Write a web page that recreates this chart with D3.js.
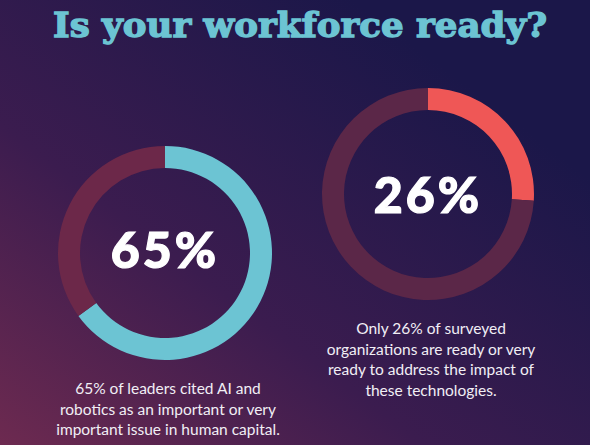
<!DOCTYPE html>
<html>
<head>
<meta charset="utf-8">
<script src="https://cdn.jsdelivr.net/npm/d3@7"></script>
<style>
  html, body { margin: 0; padding: 0; background: #1c1748; }
  svg { display: block; }
</style>
</head>
<body>
<svg width="590" height="445"></svg>
<script>
var svg = d3.select('svg');

// data
var title = 'Is your workforce ready?';
var values = [65, 26];
var labels = ['65%', '26%'];
var captions = [
    ['65% of leaders cited AI and', 'robotics as an important or very', 'important issue in human capital.'],
    ['Only 26% of surveyed', 'organizations are ready or very', 'ready to address the impact of', 'these technologies.']
];
var fills = ['#6cc4d3', '#ef5756'];
var tracks = ['#6c2849', '#5b2748'];

// layout
var donuts = [
    {cx: 165, cy: 253, r: 107, textY: 268, capY: 394},
    {cx: 428, cy: 194, r: 106, textY: 213, capY: 334}
];

var defs = svg.append('defs');
var grad = defs.append('linearGradient')
    .attr('id', 'bg')
    .attr('x1', '0%').attr('y1', '100%')
    .attr('x2', '80%').attr('y2', '20%');
grad.append('stop').attr('offset', '0%').attr('stop-color', '#6d2a50');
grad.append('stop').attr('offset', '45%').attr('stop-color', '#3b1c4f');
grad.append('stop').attr('offset', '100%').attr('stop-color', '#1b1749');

svg.append('rect')
    .attr('width', 590).attr('height', 445)
    .attr('fill', 'url(#bg)');

svg.append('text')
    .attr('x', 300).attr('y', 37)
    .attr('text-anchor', 'middle')
    .attr('font-family', 'DejaVu Serif')
    .attr('font-weight', 'bold')
    .attr('font-size', 33)
    .attr('textLength', 494)
    .attr('lengthAdjust', 'spacingAndGlyphs')
    .attr('fill', '#6cc4d3')
    .attr('stroke', '#6cc4d3')
    .attr('stroke-width', 1.3)
    .text(title);

var pie = d3.pie().sort(null);

values.forEach(function(v, i){
    var d = donuts[i];
    var arc = d3.arc().innerRadius(d.r - 22).outerRadius(d.r);
    var g = svg.append('g').attr('transform', 'translate(' + d.cx + ',' + d.cy + ')');

    g.selectAll('path')
        .data(pie([v, 100 - v])).enter()
        .append('path')
        .attr('d', arc)
        .attr('fill', function(p, j){
            return j == 0 ? fills[i] : tracks[i]
        });

    svg.append('text')
        .attr('x', d.cx).attr('y', d.textY)
        .attr('text-anchor', 'middle')
        .attr('font-family', 'Lato')
        .attr('font-weight', 900)
        .attr('font-size', 50)
        .attr('letter-spacing', 3)
        .attr('fill', '#ffffff')
        .attr('stroke', '#ffffff')
        .attr('stroke-width', 1.2)
        .text(labels[i]);

    svg.selectAll('cap' + i)
        .data(captions[i]).enter()
        .append('text')
        .attr('x', d.cx + 3)
        .attr('y', function(t, j){
            return d.capY + j * 20.5
        })
        .attr('text-anchor', 'middle')
        .attr('font-family', 'Lato')
        .attr('font-size', 15.5)
        .attr('fill', '#f1eef5')
        .text(function(t){ return t });
});
</script>
</body>
</html>
